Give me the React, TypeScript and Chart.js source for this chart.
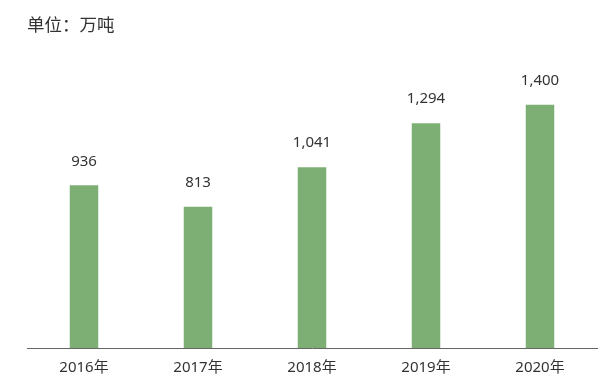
import React, { useEffect, useRef } from "react";
import { Chart, registerables } from "chart.js";

Chart.register(...registerables);

const categories = ["2016年", "2017年", "2018年", "2019年", "2020年"];
const values = [936, 813, 1041, 1294, 1400];
const unitLabel = "单位：万吨";

const FONT = "'Noto Sans', 'Noto Sans CJK SC', sans-serif";

const valueLabels = {
  id: "valueLabels",
  afterDatasetsDraw(chart: any) {
    const ctx = chart.ctx;
    const meta = chart.getDatasetMeta(0);
    ctx.save();
    ctx.font = `15px ${FONT}`;
    ctx.fillStyle = "#333333";
    ctx.textAlign = "center";
    ctx.textBaseline = "middle";
    meta.data.forEach((bar: any, i: number) => {
      const v = values[i];
      ctx.fillText(v.toLocaleString("en-US"), bar.x, bar.y - 24);
    });
    ctx.restore();
  },
};

export default function App() {
  const ref = useRef<HTMLCanvasElement>(null);
  useEffect(() => {
    if (!ref.current) return;
    const chart = new Chart(ref.current, {
      type: "bar",
      data: {
        labels: categories,
        datasets: [
          {
            data: values,
            backgroundColor: "#7DAF74",
            barPercentage: 0.25,
            categoryPercentage: 1,
          },
        ],
      },
      options: {
        animation: false,
        responsive: false,
        layout: { padding: { top: 70, left: 27, right: 10, bottom: 0 } },
        plugins: { legend: { display: false }, tooltip: { enabled: false } },
        scales: {
          x: {
            grid: { display: false },
            border: { display: true, color: "#666666", width: 1 },
            ticks: { color: "#333333", font: { size: 15, family: FONT }, padding: 3 },
            afterFit(scale: any) {
              scale.height = 38;
            },
          },
          y: { display: false, min: 0, max: 1600 },
        },
      },
      plugins: [valueLabels],
    });
    return () => chart.destroy();
  }, []);
  return (
    <div style={{ position: "fixed", left: 0, top: 0, width: 607, height: 386, background: "#fff" }}>
      <div
        style={{
          position: "absolute",
          left: 27,
          top: 12,
          fontFamily: FONT,
          fontSize: 17.5,
          color: "#333333",
          lineHeight: "24px",
        }}
      >
        {unitLabel}
      </div>
      <canvas ref={ref} width={607} height={386} />
    </div>
  );
}
